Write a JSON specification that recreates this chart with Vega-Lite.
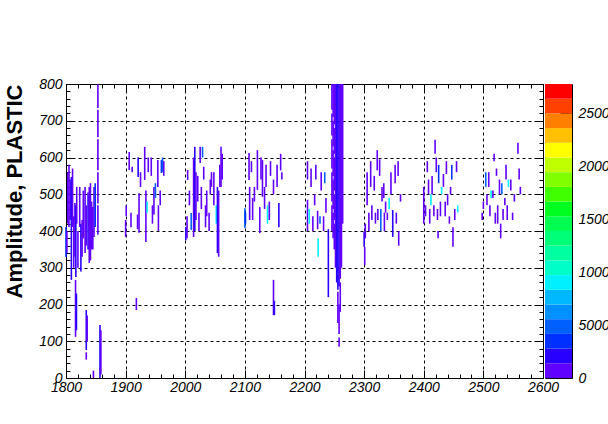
{
  "$schema": "https://vega.github.io/schema/vega-lite/v6.json",
  "background": "white",
  "padding": {"left": 3, "top": 76, "right": 0, "bottom": 0},
  "autosize": {"type": "pad"},
  "spacing": 2,
  "bounds": "flush",
  "config": {
    "font": "Liberation Sans",
    "view": {"stroke": "black", "strokeWidth": 1},
    "axis": {
      "domain": false,
      "tickColor": "black",
      "tickWidth": 1,
      "labelColor": "black",
      "labelFont": "Liberation Sans",
      "labelFontStyle": "italic",
      "labelFontSize": 14,
      "labelFlush": false,
      "labelOverlap": false,
      "format": "d",
      "titleColor": "black"
    }
  },
  "datasets": {
    "hist": [
      {"x": 1800, "y": 329, "y2": 411, "n": 3000},
      {"x": 1801.5, "y": 340, "y2": 400, "n": 600},
      {"x": 1803, "y": 420, "y2": 560, "n": 600},
      {"x": 1805, "y": 411, "y2": 580, "n": 600},
      {"x": 1807, "y": 430, "y2": 540, "n": 600},
      {"x": 1809, "y": 267, "y2": 547, "n": 2000},
      {"x": 1811, "y": 411, "y2": 570, "n": 600},
      {"x": 1813, "y": 300, "y2": 440, "n": 600},
      {"x": 1815, "y": 330, "y2": 476, "n": 600},
      {"x": 1816.5, "y": 275, "y2": 470, "n": 2000},
      {"x": 1818, "y": 420, "y2": 520, "n": 600},
      {"x": 1820, "y": 300, "y2": 400, "n": 600},
      {"x": 1823, "y": 411, "y2": 520, "n": 600},
      {"x": 1825, "y": 290, "y2": 420, "n": 2000},
      {"x": 1827, "y": 330, "y2": 430, "n": 600},
      {"x": 1829, "y": 380, "y2": 510, "n": 600},
      {"x": 1832, "y": 340, "y2": 520, "n": 600},
      {"x": 1834, "y": 360, "y2": 470, "n": 600},
      {"x": 1837, "y": 350, "y2": 505, "n": 2000},
      {"x": 1839, "y": 313, "y2": 520, "n": 600},
      {"x": 1841, "y": 320, "y2": 530, "n": 600},
      {"x": 1843, "y": 350, "y2": 480, "n": 600},
      {"x": 1845, "y": 350, "y2": 465, "n": 600},
      {"x": 1847, "y": 384, "y2": 520, "n": 600},
      {"x": 1849, "y": 411, "y2": 530, "n": 3000},
      {"x": 1853.5, "y": 390, "y2": 470, "n": 600},
      {"x": 1853.5, "y": 475, "y2": 560, "n": 600},
      {"x": 1853.5, "y": 565, "y2": 650, "n": 600},
      {"x": 1853.5, "y": 655, "y2": 730, "n": 600},
      {"x": 1853.5, "y": 735, "y2": 800, "n": 600},
      {"x": 1816, "y": 112, "y2": 267, "n": 600},
      {"x": 1817.5, "y": 130, "y2": 230, "n": 2000},
      {"x": 1834, "y": 76, "y2": 185, "n": 2000},
      {"x": 1835.5, "y": 100, "y2": 170, "n": 600},
      {"x": 1834, "y": 50, "y2": 70, "n": 600},
      {"x": 1846, "y": 0, "y2": 20, "n": 600},
      {"x": 1857, "y": 0, "y2": 144, "n": 2000},
      {"x": 1858.5, "y": 10, "y2": 130, "n": 600},
      {"x": 1900, "y": 384, "y2": 430, "n": 600},
      {"x": 1901, "y": 440, "y2": 470, "n": 600},
      {"x": 1906, "y": 566, "y2": 615, "n": 600},
      {"x": 1909, "y": 410, "y2": 450, "n": 600},
      {"x": 1911, "y": 560, "y2": 575, "n": 600},
      {"x": 1918, "y": 185, "y2": 218, "n": 600},
      {"x": 1920, "y": 405, "y2": 445, "n": 600},
      {"x": 1921, "y": 547, "y2": 601, "n": 2000},
      {"x": 1922.5, "y": 395, "y2": 503, "n": 600},
      {"x": 1925, "y": 520, "y2": 560, "n": 600},
      {"x": 1932, "y": 539, "y2": 629, "n": 600},
      {"x": 1934, "y": 370, "y2": 510, "n": 600},
      {"x": 1936, "y": 450, "y2": 480, "n": 9000},
      {"x": 1938, "y": 560, "y2": 600, "n": 600},
      {"x": 1943, "y": 550, "y2": 600, "n": 600},
      {"x": 1945, "y": 420, "y2": 470, "n": 600},
      {"x": 1947.5, "y": 445, "y2": 520, "n": 600},
      {"x": 1950, "y": 490, "y2": 530, "n": 5000},
      {"x": 1954, "y": 520, "y2": 593, "n": 600},
      {"x": 1955, "y": 400, "y2": 470, "n": 600},
      {"x": 1958, "y": 470, "y2": 510, "n": 600},
      {"x": 1960, "y": 558, "y2": 593, "n": 3000},
      {"x": 1962, "y": 560, "y2": 600, "n": 5000},
      {"x": 1964, "y": 550, "y2": 590, "n": 600},
      {"x": 2001, "y": 375, "y2": 411, "n": 2000},
      {"x": 2003, "y": 380, "y2": 440, "n": 600},
      {"x": 2004, "y": 539, "y2": 566, "n": 600},
      {"x": 2007, "y": 470, "y2": 510, "n": 600},
      {"x": 2010, "y": 403, "y2": 449, "n": 5000},
      {"x": 2014, "y": 384, "y2": 600, "n": 600},
      {"x": 2016, "y": 400, "y2": 629, "n": 2000},
      {"x": 2018, "y": 430, "y2": 560, "n": 600},
      {"x": 2021, "y": 480, "y2": 550, "n": 600},
      {"x": 2023, "y": 400, "y2": 450, "n": 600},
      {"x": 2025, "y": 585, "y2": 629, "n": 600},
      {"x": 2027, "y": 460, "y2": 520, "n": 600},
      {"x": 2029, "y": 600, "y2": 629, "n": 5000},
      {"x": 2031, "y": 540, "y2": 575, "n": 600},
      {"x": 2034, "y": 410, "y2": 470, "n": 600},
      {"x": 2036, "y": 440, "y2": 510, "n": 600},
      {"x": 2040, "y": 400, "y2": 450, "n": 600},
      {"x": 2042, "y": 500, "y2": 540, "n": 600},
      {"x": 2044, "y": 520, "y2": 560, "n": 600},
      {"x": 2048, "y": 470, "y2": 560, "n": 600},
      {"x": 2052, "y": 420, "y2": 470, "n": 9000},
      {"x": 2054, "y": 340, "y2": 520, "n": 2000},
      {"x": 2056, "y": 330, "y2": 510, "n": 600},
      {"x": 2058, "y": 520, "y2": 580, "n": 600},
      {"x": 2060, "y": 520, "y2": 629, "n": 600},
      {"x": 2062, "y": 540, "y2": 610, "n": 600},
      {"x": 2100, "y": 408, "y2": 462, "n": 5000},
      {"x": 2101, "y": 420, "y2": 450, "n": 3000},
      {"x": 2107, "y": 539, "y2": 612, "n": 600},
      {"x": 2108, "y": 430, "y2": 520, "n": 600},
      {"x": 2111, "y": 560, "y2": 590, "n": 600},
      {"x": 2113, "y": 430, "y2": 490, "n": 600},
      {"x": 2116, "y": 480, "y2": 520, "n": 600},
      {"x": 2121, "y": 512, "y2": 620, "n": 600},
      {"x": 2125, "y": 394, "y2": 465, "n": 600},
      {"x": 2127, "y": 540, "y2": 600, "n": 600},
      {"x": 2129.5, "y": 493, "y2": 593, "n": 600},
      {"x": 2133, "y": 460, "y2": 520, "n": 600},
      {"x": 2135.5, "y": 520, "y2": 580, "n": 600},
      {"x": 2138, "y": 420, "y2": 470, "n": 9000},
      {"x": 2141, "y": 430, "y2": 480, "n": 600},
      {"x": 2143, "y": 550, "y2": 590, "n": 600},
      {"x": 2148, "y": 500, "y2": 540, "n": 600},
      {"x": 2154, "y": 520, "y2": 580, "n": 600},
      {"x": 2157, "y": 410, "y2": 476, "n": 2000},
      {"x": 2160, "y": 565, "y2": 610, "n": 600},
      {"x": 2162, "y": 540, "y2": 560, "n": 600},
      {"x": 2148, "y": 171, "y2": 267, "n": 600},
      {"x": 2149.5, "y": 171, "y2": 210, "n": 2000},
      {"x": 2205, "y": 540, "y2": 590, "n": 600},
      {"x": 2205, "y": 400, "y2": 485, "n": 600},
      {"x": 2208, "y": 420, "y2": 460, "n": 9000},
      {"x": 2211, "y": 520, "y2": 570, "n": 600},
      {"x": 2214, "y": 400, "y2": 440, "n": 600},
      {"x": 2217, "y": 470, "y2": 500, "n": 600},
      {"x": 2219, "y": 540, "y2": 580, "n": 600},
      {"x": 2222, "y": 405, "y2": 455, "n": 600},
      {"x": 2223, "y": 330, "y2": 380, "n": 9000},
      {"x": 2226, "y": 420, "y2": 440, "n": 5000},
      {"x": 2228, "y": 510, "y2": 560, "n": 600},
      {"x": 2232, "y": 400, "y2": 440, "n": 600},
      {"x": 2234, "y": 530, "y2": 560, "n": 5000},
      {"x": 2236, "y": 450, "y2": 490, "n": 600},
      {"x": 2240, "y": 220, "y2": 405, "n": 2000},
      {"x": 2246, "y": 400, "y2": 470, "n": 600},
      {"x": 2246, "y": 480, "y2": 560, "n": 600},
      {"x": 2246, "y": 570, "y2": 650, "n": 600},
      {"x": 2246, "y": 660, "y2": 720, "n": 600},
      {"x": 2246, "y": 730, "y2": 800, "n": 600},
      {"x": 2248, "y": 380, "y2": 450, "n": 600},
      {"x": 2248, "y": 460, "y2": 540, "n": 600},
      {"x": 2248, "y": 550, "y2": 620, "n": 600},
      {"x": 2248, "y": 630, "y2": 700, "n": 600},
      {"x": 2248, "y": 710, "y2": 800, "n": 600},
      {"x": 2250, "y": 350, "y2": 420, "n": 600},
      {"x": 2250, "y": 430, "y2": 500, "n": 600},
      {"x": 2250, "y": 510, "y2": 600, "n": 600},
      {"x": 2250, "y": 610, "y2": 680, "n": 600},
      {"x": 2250, "y": 690, "y2": 800, "n": 600},
      {"x": 2252, "y": 300, "y2": 800, "n": 600},
      {"x": 2254, "y": 260, "y2": 800, "n": 2000},
      {"x": 2256, "y": 240, "y2": 800, "n": 2000},
      {"x": 2258, "y": 250, "y2": 800, "n": 2000},
      {"x": 2260, "y": 270, "y2": 800, "n": 600},
      {"x": 2262, "y": 300, "y2": 800, "n": 600},
      {"x": 2264, "y": 420, "y2": 800, "n": 600},
      {"x": 2256, "y": 150, "y2": 235, "n": 600},
      {"x": 2258, "y": 85, "y2": 110, "n": 600},
      {"x": 2258, "y": 120, "y2": 200, "n": 600},
      {"x": 2260, "y": 180, "y2": 260, "n": 600},
      {"x": 2300, "y": 357, "y2": 397, "n": 2000},
      {"x": 2301, "y": 307, "y2": 357, "n": 600},
      {"x": 2302, "y": 380, "y2": 420, "n": 600},
      {"x": 2305, "y": 470, "y2": 560, "n": 600},
      {"x": 2308, "y": 400, "y2": 450, "n": 600},
      {"x": 2311, "y": 520, "y2": 590, "n": 600},
      {"x": 2313, "y": 430, "y2": 470, "n": 600},
      {"x": 2317, "y": 510, "y2": 550, "n": 600},
      {"x": 2319, "y": 420, "y2": 450, "n": 600},
      {"x": 2322, "y": 565, "y2": 620, "n": 600},
      {"x": 2323, "y": 430, "y2": 460, "n": 600},
      {"x": 2326, "y": 550, "y2": 595, "n": 600},
      {"x": 2328, "y": 400, "y2": 460, "n": 5000},
      {"x": 2330, "y": 480, "y2": 520, "n": 600},
      {"x": 2333, "y": 490, "y2": 530, "n": 600},
      {"x": 2334, "y": 400, "y2": 450, "n": 600},
      {"x": 2336, "y": 450, "y2": 480, "n": 600},
      {"x": 2339, "y": 430, "y2": 450, "n": 600},
      {"x": 2342, "y": 460, "y2": 490, "n": 9000},
      {"x": 2345, "y": 500, "y2": 560, "n": 600},
      {"x": 2348, "y": 384, "y2": 457, "n": 2000},
      {"x": 2352, "y": 530, "y2": 580, "n": 600},
      {"x": 2354, "y": 420, "y2": 450, "n": 600},
      {"x": 2357, "y": 550, "y2": 590, "n": 600},
      {"x": 2358, "y": 360, "y2": 400, "n": 600},
      {"x": 2361, "y": 480, "y2": 500, "n": 600},
      {"x": 2400, "y": 420, "y2": 520, "n": 600},
      {"x": 2403, "y": 440, "y2": 470, "n": 600},
      {"x": 2406, "y": 560, "y2": 590, "n": 600},
      {"x": 2408, "y": 500, "y2": 540, "n": 600},
      {"x": 2410, "y": 420, "y2": 460, "n": 600},
      {"x": 2412, "y": 470, "y2": 500, "n": 9000},
      {"x": 2414, "y": 500, "y2": 550, "n": 600},
      {"x": 2417, "y": 440, "y2": 470, "n": 600},
      {"x": 2419, "y": 610, "y2": 648, "n": 600},
      {"x": 2421, "y": 560, "y2": 600, "n": 600},
      {"x": 2423, "y": 430, "y2": 460, "n": 600},
      {"x": 2424, "y": 380, "y2": 400, "n": 600},
      {"x": 2425, "y": 530, "y2": 580, "n": 3000},
      {"x": 2428, "y": 440, "y2": 480, "n": 600},
      {"x": 2430, "y": 500, "y2": 520, "n": 9000},
      {"x": 2433, "y": 520, "y2": 555, "n": 600},
      {"x": 2436, "y": 440, "y2": 480, "n": 600},
      {"x": 2438, "y": 555, "y2": 590, "n": 600},
      {"x": 2440, "y": 470, "y2": 500, "n": 600},
      {"x": 2443, "y": 420, "y2": 440, "n": 600},
      {"x": 2445, "y": 500, "y2": 520, "n": 600},
      {"x": 2447, "y": 540, "y2": 580, "n": 3000},
      {"x": 2449, "y": 357, "y2": 410, "n": 600},
      {"x": 2452, "y": 430, "y2": 460, "n": 600},
      {"x": 2455, "y": 560, "y2": 590, "n": 600},
      {"x": 2457, "y": 450, "y2": 470, "n": 9000},
      {"x": 2498, "y": 430, "y2": 450, "n": 600},
      {"x": 2500, "y": 460, "y2": 480, "n": 600},
      {"x": 2504, "y": 520, "y2": 560, "n": 5000},
      {"x": 2506, "y": 470, "y2": 500, "n": 600},
      {"x": 2509, "y": 520, "y2": 560, "n": 600},
      {"x": 2511, "y": 440, "y2": 470, "n": 600},
      {"x": 2513, "y": 490, "y2": 510, "n": 9000},
      {"x": 2516, "y": 490, "y2": 510, "n": 600},
      {"x": 2518, "y": 590, "y2": 610, "n": 600},
      {"x": 2520, "y": 420, "y2": 450, "n": 600},
      {"x": 2522, "y": 550, "y2": 570, "n": 600},
      {"x": 2524, "y": 420, "y2": 470, "n": 600},
      {"x": 2527, "y": 500, "y2": 540, "n": 600},
      {"x": 2529, "y": 380, "y2": 420, "n": 600},
      {"x": 2531, "y": 500, "y2": 530, "n": 5000},
      {"x": 2533, "y": 430, "y2": 460, "n": 600},
      {"x": 2536, "y": 470, "y2": 490, "n": 600},
      {"x": 2538, "y": 540, "y2": 580, "n": 600},
      {"x": 2540, "y": 430, "y2": 470, "n": 600},
      {"x": 2542, "y": 520, "y2": 540, "n": 9000},
      {"x": 2546, "y": 510, "y2": 540, "n": 600},
      {"x": 2549, "y": 430, "y2": 450, "n": 600},
      {"x": 2552, "y": 480, "y2": 500, "n": 600},
      {"x": 2558, "y": 610, "y2": 640, "n": 600},
      {"x": 2560, "y": 540, "y2": 570, "n": 600},
      {"x": 2562, "y": 500, "y2": 520, "n": 600}
    ],
    "levels": [
      {"lo": 0, "hi": 1387}, {"lo": 1387, "hi": 2774}, {"lo": 2774, "hi": 4161},
      {"lo": 4161, "hi": 5548}, {"lo": 5548, "hi": 6935}, {"lo": 6935, "hi": 8322},
      {"lo": 8322, "hi": 9709}, {"lo": 9709, "hi": 11096}, {"lo": 11096, "hi": 12483},
      {"lo": 12483, "hi": 13870}, {"lo": 13870, "hi": 15257}, {"lo": 15257, "hi": 16644},
      {"lo": 16644, "hi": 18031}, {"lo": 18031, "hi": 19418}, {"lo": 19418, "hi": 20805},
      {"lo": 20805, "hi": 22192}, {"lo": 22192, "hi": 23579}, {"lo": 23579, "hi": 24966},
      {"lo": 24966, "hi": 26353}, {"lo": 26353, "hi": 27740}
    ]
  },
  "hconcat": [
    {
      "width": 477,
      "height": 294,
      "data": {"name": "hist"},
      "layer": [
        {
          "mark": {"type": "rule", "strokeWidth": 1.6},
          "encoding": {
            "x": {"field": "x", "type": "quantitative",
                  "scale": {"domain": [1800, 2600], "nice": false, "zero": false},
                  "axis": {"orient": "bottom", "values": [1800, 1900, 2000, 2100, 2200, 2300, 2400, 2500, 2600],
                           "tickSize": -8, "labelPadding": 10, "grid": true, "gridColor": "black",
                           "gridDash": [3, 3], "gridWidth": 1, "gridOpacity": 1, "title": null}},
            "y": {"field": "y", "type": "quantitative",
                  "scale": {"domain": [0, 800], "nice": false, "zero": false},
                  "axis": {"orient": "left", "values": [0, 100, 200, 300, 400, 500, 600, 700, 800],
                           "tickSize": -8, "labelPadding": 12, "grid": true, "gridColor": "black",
                           "gridDash": [3, 3], "gridWidth": 1, "gridOpacity": 1,
                           "title": "Amplitude, PLASTIC", "titleFont": "Liberation Sans",
                           "titleFontSize": 22, "titleFontWeight": "bold", "titleAnchor": "end",
                           "titlePadding": 12}},
            "y2": {"field": "y2"},
            "color": {"field": "n", "type": "quantitative",
                      "scale": {"type": "threshold",
                                "domain": [1387, 2774, 4161, 5548, 6935, 8322, 9709, 11096, 12483, 13870, 15257, 16644, 18031, 19418, 20805, 22192, 23579, 24966, 26353],
                                "range": ["#6000ff", "#2800ff", "#0030ff", "#0060ff", "#0090ff", "#00b8ff", "#00f0ff", "#00ffc8", "#00ffa0", "#00ff78", "#00ff50", "#00ff20", "#40ff00", "#80ff00", "#c0ff00", "#ffff00", "#ffc000", "#ff8000", "#ff4000", "#ff0000"]},
                      "legend": null}
          }
        },
        {
          "mark": {"type": "point", "opacity": 0},
          "encoding": {
            "x": {"field": "x", "type": "quantitative",
                  "scale": {"domain": [1800, 2600], "nice": false, "zero": false},
                  "axis": {"orient": "bottom", "values": [1820, 1840, 1860, 1880, 1920, 1940, 1960, 1980, 2020, 2040, 2060, 2080, 2120, 2140, 2160, 2180, 2220, 2240, 2260, 2280, 2320, 2340, 2360, 2380, 2420, 2440, 2460, 2480, 2520, 2540, 2560, 2580],
                           "tickSize": -4, "labels": false, "grid": false, "title": null}},
            "y": {"field": "y", "type": "quantitative",
                  "scale": {"domain": [0, 800], "nice": false, "zero": false},
                  "axis": {"orient": "left", "values": [20, 40, 60, 80, 120, 140, 160, 180, 220, 240, 260, 280, 320, 340, 360, 380, 420, 440, 460, 480, 520, 540, 560, 580, 620, 640, 660, 680, 720, 740, 760, 780],
                           "tickSize": -4, "labels": false, "grid": false, "title": null}}
          }
        },
        {
          "mark": {"type": "point", "opacity": 0},
          "encoding": {
            "x": {"field": "x", "type": "quantitative",
                  "scale": {"domain": [1800, 2600], "nice": false, "zero": false},
                  "axis": {"orient": "top", "values": [1800, 1900, 2000, 2100, 2200, 2300, 2400, 2500, 2600],
                           "tickSize": -8, "labels": false, "grid": false, "title": null}},
            "y": {"field": "y", "type": "quantitative",
                  "scale": {"domain": [0, 800], "nice": false, "zero": false},
                  "axis": {"orient": "right", "values": [0, 100, 200, 300, 400, 500, 600, 700, 800],
                           "tickSize": -8, "labels": false, "grid": false, "title": null}}
          }
        },
        {
          "mark": {"type": "point", "opacity": 0},
          "encoding": {
            "x": {"field": "x", "type": "quantitative",
                  "scale": {"domain": [1800, 2600], "nice": false, "zero": false},
                  "axis": {"orient": "top", "values": [1820, 1840, 1860, 1880, 1920, 1940, 1960, 1980, 2020, 2040, 2060, 2080, 2120, 2140, 2160, 2180, 2220, 2240, 2260, 2280, 2320, 2340, 2360, 2380, 2420, 2440, 2460, 2480, 2520, 2540, 2560, 2580],
                           "tickSize": -4, "labels": false, "grid": false, "title": null}},
            "y": {"field": "y", "type": "quantitative",
                  "scale": {"domain": [0, 800], "nice": false, "zero": false},
                  "axis": {"orient": "right", "values": [20, 40, 60, 80, 120, 140, 160, 180, 220, 240, 260, 280, 320, 340, 360, 380, 420, 440, 460, 480, 520, 540, 560, 580, 620, 640, 660, 680, 720, 740, 760, 780],
                           "tickSize": -4, "labels": false, "grid": false, "title": null}}
          }
        }
      ],
      "resolve": {"axis": {"x": "independent", "y": "independent"}}
    },
    {
      "width": 27,
      "height": 294,
      "data": {"name": "levels"},
      "mark": {"type": "rect"},
      "encoding": {
        "y": {"field": "lo", "type": "quantitative",
              "scale": {"domain": [0, 27740], "nice": false, "zero": false},
              "axis": {"orient": "right", "values": [0, 5000, 10000, 15000, 20000, 25000],
                       "tickSize": -12, "labelPadding": 18, "grid": false, "title": null}},
        "y2": {"field": "hi"},
        "color": {"field": "lo", "type": "quantitative",
                  "scale": {"type": "threshold",
                            "domain": [1387, 2774, 4161, 5548, 6935, 8322, 9709, 11096, 12483, 13870, 15257, 16644, 18031, 19418, 20805, 22192, 23579, 24966, 26353],
                            "range": ["#6000ff", "#2800ff", "#0030ff", "#0060ff", "#0090ff", "#00b8ff", "#00f0ff", "#00ffc8", "#00ffa0", "#00ff78", "#00ff50", "#00ff20", "#40ff00", "#80ff00", "#c0ff00", "#ffff00", "#ffc000", "#ff8000", "#ff4000", "#ff0000"]},
                  "legend": null}
      }
    }
  ]
}
